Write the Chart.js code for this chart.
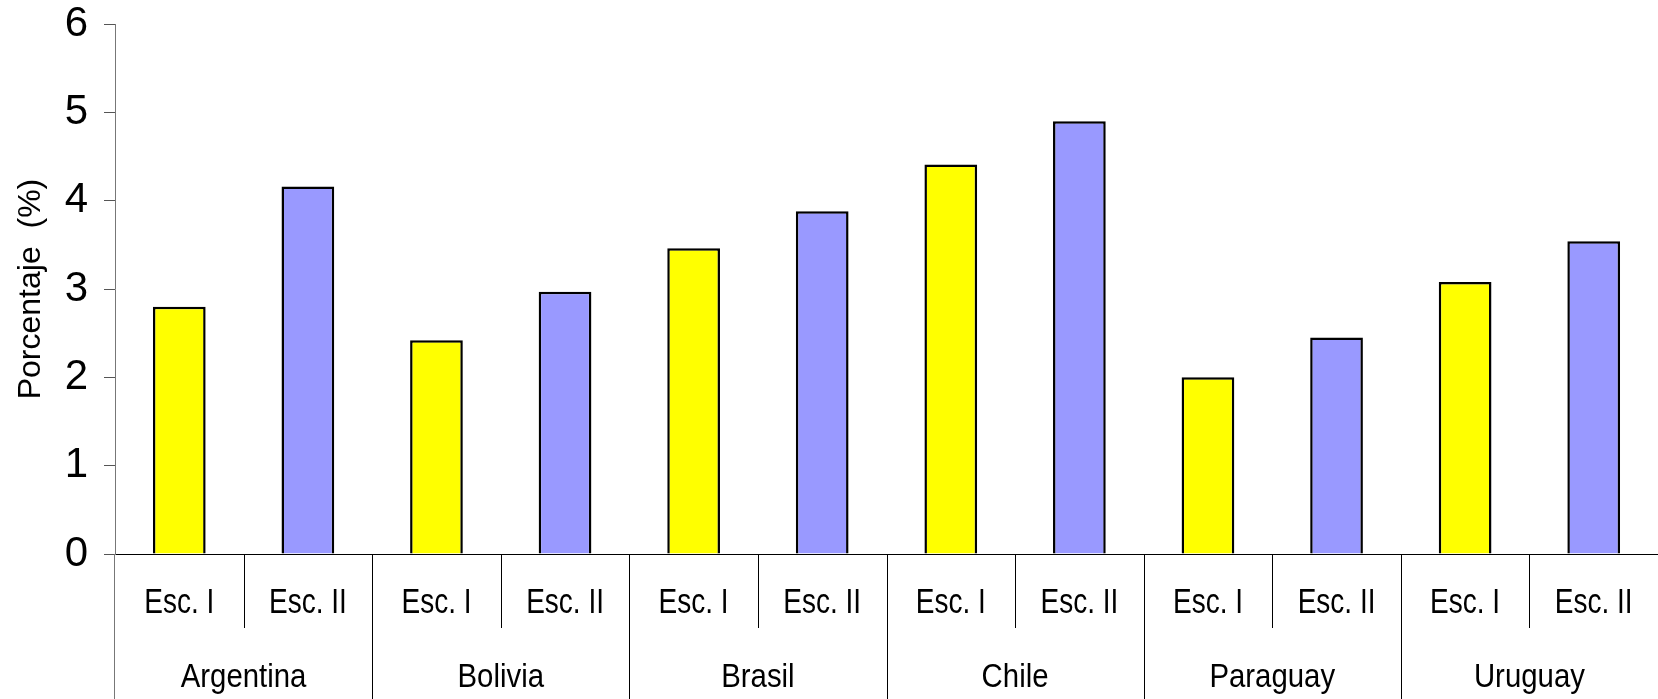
<!DOCTYPE html>
<html>
<head>
<meta charset="utf-8">
<script src="https://cdn.jsdelivr.net/npm/chart.js@4/dist/chart.umd.min.js"></script>
<style>
  html, body { margin: 0; padding: 0; background: #fff; }
  #wrap { width: 1658px; height: 699px; }
</style>
</head>
<body>
<div id="wrap"><canvas id="chart" width="1658" height="699"></canvas></div>
<script>
// valores
var paises = ['Argentina', 'Bolivia', 'Brasil', 'Chile', 'Paraguay', 'Uruguay'];
var escenarios = ['Esc. I', 'Esc. II'];
var escI = [2.80, 2.42, 3.46, 4.41, 2.00, 3.08];
var escII = [4.16, 2.97, 3.88, 4.90, 2.45, 3.54];
var yTicks = [0, 1, 2, 3, 4, 5, 6];

var sans = "'Liberation Sans', Arial, sans-serif";

// etiquetas de la subcategoria y series con huecos
var labels = [];
var dataI = [];
var dataII = [];
paises.forEach(function (p, i) {
  labels.push(escenarios[0], escenarios[1]);
  dataI.push(escI[i], null);
  dataII.push(null, escII[i]);
});

// texto algo comprimido como en el original
function textoAngosto(ctx, txt, x, y, size, squeeze) {
  ctx.save();
  ctx.translate(x, y);
  ctx.scale(squeeze, 1);
  ctx.font = size + 'px ' + sans;
  ctx.fillText(txt, 0, 0);
  ctx.restore();
}

var grupos = {
  id: 'grupos',
  afterDraw: function (chart) {
    var ctx = chart.ctx;
    var x = chart.scales.x;
    var area = chart.chartArea;
    var step = x.getPixelForValue(1) - x.getPixelForValue(0);
    ctx.save();
    ctx.strokeStyle = '#000';
    ctx.lineWidth = 1;
    for (var i = 1; i <= labels.length; i++) {
      var px = Math.round(x.getPixelForValue(i) - step / 2) + 0.5;
      var fondo = (i % 2 === 0) ? chart.height : area.bottom + 74;
      ctx.beginPath();
      ctx.moveTo(px, area.bottom);
      ctx.lineTo(px, fondo);
      ctx.stroke();
    }
    // eje y prolongado hacia abajo
    ctx.strokeStyle = '#777';
    ctx.beginPath();
    ctx.moveTo(area.left - 0.5, area.bottom);
    ctx.lineTo(area.left - 0.5, chart.height);
    ctx.stroke();

    ctx.fillStyle = '#000';
    ctx.textAlign = 'center';
    ctx.textBaseline = 'alphabetic';
    labels.forEach(function (l, i) {
      textoAngosto(ctx, l, x.getPixelForValue(i), 613, 35, 0.8);
    });
    paises.forEach(function (p, i) {
      var cx = (x.getPixelForValue(2 * i) + x.getPixelForValue(2 * i + 1)) / 2;
      textoAngosto(ctx, p, cx, 687, 33, 0.89);
    });
    ctx.restore();
  }
};

var ctx = document.getElementById('chart');
var chart = new Chart(ctx, {
  type: 'bar',
  data: {
    labels: labels,
    datasets: [
      {
        label: 'Esc. I',
        data: dataI,
        backgroundColor: '#FFFF00',
        borderColor: '#000',
        borderWidth: 2.5
      },
      {
        label: 'Esc. II',
        data: dataII,
        backgroundColor: '#9999FF',
        borderColor: '#000',
        borderWidth: 2.5
      }
    ]
  },
  options: {
    responsive: false,
    animation: false,
    layout: { padding: { top: 24, right: 0, left: 0, bottom: 0 } },
    datasets: {
      bar: {
        grouped: false,
        categoryPercentage: 1,
        barPercentage: 0.41
      }
    },
    plugins: {
      legend: { display: false },
      tooltip: { enabled: false }
    },
    scales: {
      x: {
        grid: { display: false, drawTicks: false },
        border: { display: true, color: '#000', width: 1 },
        ticks: { display: false },
        afterFit: function (scale) { scale.height = 145; }
      },
      y: {
        min: 0,
        max: 6,
        afterBuildTicks: function (scale) {
          scale.ticks = yTicks.map(function (v) { return { value: v }; });
        },
        grid: {
          drawOnChartArea: false,
          drawTicks: true,
          tickLength: 11,
          color: '#555'
        },
        border: { display: true, color: '#777', width: 1 },
        ticks: {
          color: '#000',
          padding: 16,
          font: { family: sans, size: 42 }
        },
        title: {
          display: true,
          text: 'Porcentaje  (%)',
          color: '#000',
          padding: { top: 12, bottom: 0 },
          font: { family: sans, size: 32 }
        },
        afterFit: function (scale) {
          scale.width = 115;
          scale.paddingTop = 0;
          scale.paddingBottom = 0;
        }
      }
    }
  },
  plugins: [grupos]
});
</script>
</body>
</html>
